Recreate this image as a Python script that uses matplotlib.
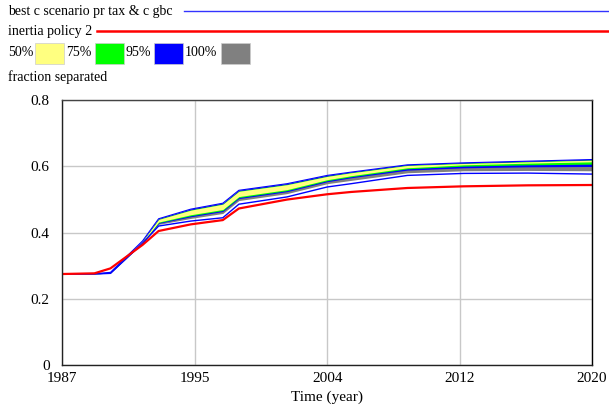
import matplotlib
matplotlib.use("Agg")
import matplotlib.pyplot as plt
from matplotlib.lines import Line2D
from matplotlib.patches import Rectangle

# time points (year) and series
years = [1987, 1989, 1990, 1992, 1993, 1995, 1997, 1998, 2001, 2003.5, 2005, 2008.5, 2012, 2016, 2020]

upper100 = [0.275, 0.276, 0.280, 0.375, 0.443, 0.472, 0.490, 0.529, 0.549, 0.574, 0.584, 0.606, 0.612, 0.617, 0.622]
upper95 = [0.275, 0.276, 0.280, 0.375, 0.442, 0.471, 0.489, 0.528, 0.548, 0.573, 0.583, 0.605, 0.611, 0.616, 0.621]
upper75 = [0.275, 0.276, 0.280, 0.374, 0.441, 0.469, 0.487, 0.526, 0.546, 0.571, 0.582, 0.604, 0.610, 0.615, 0.620]
upper50 = [0.275, 0.276, 0.280, 0.374, 0.440, 0.468, 0.486, 0.525, 0.545, 0.570, 0.581, 0.603, 0.609, 0.614, 0.619]
lower50 = [0.275, 0.275, 0.279, 0.371, 0.432, 0.454, 0.470, 0.509, 0.530, 0.560, 0.572, 0.596, 0.605, 0.610, 0.614]
lower75 = [0.275, 0.275, 0.279, 0.370, 0.430, 0.451, 0.467, 0.506, 0.527, 0.557, 0.569, 0.593, 0.601, 0.605, 0.607]
lower95 = [0.275, 0.275, 0.278, 0.369, 0.428, 0.448, 0.464, 0.503, 0.524, 0.554, 0.566, 0.589, 0.596, 0.599, 0.600]
lower100 = [0.275, 0.275, 0.278, 0.368, 0.425, 0.443, 0.458, 0.497, 0.518, 0.548, 0.558, 0.581, 0.587, 0.588, 0.587]

best_c = [0.275, 0.275, 0.277, 0.368, 0.420, 0.435, 0.445, 0.486, 0.508, 0.538, 0.548, 0.573, 0.579, 0.580, 0.577]
inertia = [0.275, 0.277, 0.292, 0.363, 0.405, 0.425, 0.438, 0.473, 0.500, 0.516, 0.523, 0.535, 0.540, 0.543, 0.544]

band_labels = ["50%", "75%", "95%", "100%"]
band_colors = ["#ffff80", "#00ff00", "#0000ff", "#808080"]

x_ticks = [1987, 1995.25, 2003.5, 2011.75, 2020]
x_ticklabels = ["1987", "1995", "2004", "2012", "2020"]
y_ticks = [0, 0.2, 0.4, 0.6, 0.8]
y_ticklabels = ["0", "0.2", "0.4", "0.6", "0.8"]

W, H = 609, 415
plt.rcParams['font.family'] = ['Liberation Serif', 'DejaVu Serif']
fig = plt.figure(figsize=(W / 100, H / 100), dpi=100)


def fx(px):
    return px / W


def fy(py):
    return 1 - py / H


ax = fig.add_axes([fx(62.3), fy(365), fx(592) - fx(62.3), fy(100.3) - fy(365)])

ax.fill_between(years, lower100, upper100, color=band_colors[3], lw=0)
ax.fill_between(years, lower95, upper95, color=band_colors[2], lw=0)
ax.fill_between(years, lower75, upper75, color=band_colors[1], lw=0)
ax.fill_between(years, lower50, upper50, color=band_colors[0], lw=0)
ax.plot(years, upper95, color="#0000ff", lw=0.8)
ax.plot(years, best_c, color="#0000ff", lw=1.0)
ax.plot(years, inertia, color="#ff0000", lw=1.6)

ax.set_xlim(1987, 2020)
ax.set_ylim(0, 0.8)
ax.set_xticks(x_ticks)
ax.set_xticklabels(x_ticklabels, fontsize=11)
ax.set_yticks(y_ticks)
ax.set_yticklabels(y_ticklabels, fontsize=11)
ax.tick_params(axis='x', length=0, pad=5)
ax.tick_params(axis='y', length=0, pad=9)
ax.grid(True, color="#c8c8c8", lw=1.0)
ax.set_axisbelow(True)
for s in ["left", "bottom"]:
    ax.spines[s].set_color("#222222")
ax.spines["top"].set_color("#444444")
ax.spines["right"].set_color("black")
for s in ax.spines.values():
    s.set_linewidth(1.0)
ax.set_xlabel("Time (year)", fontsize=11, labelpad=4)

# legend at top
fs = 10
fig.text(fx(8), fy(11), "best c scenario pr tax & c gbc", fontsize=fs, va="center", ha="left")
fig.add_artist(Line2D([fx(184), fx(609)], [fy(11), fy(11)], color="#3333ff", lw=1.0))
fig.text(fx(8), fy(31), "inertia policy 2", fontsize=fs, va="center", ha="left")
fig.add_artist(Line2D([fx(97), fx(609)], [fy(31), fy(31)], color="#ff0000", lw=1.8))

label_x = [8, 66, 125, 185]
box_x = [35, 95, 154, 221]
for lab, col, lx, bx in zip(band_labels, band_colors, label_x, box_x):
    fig.text(fx(lx), fy(52), lab, fontsize=fs, va="center", ha="left")
    fig.add_artist(Rectangle((fx(bx), fy(64)), fx(29), fy(43) - fy(64),
                             facecolor=col, edgecolor="#cccccc", lw=0.5))
fig.text(fx(8), fy(77), "fraction separated", fontsize=fs, va="center", ha="left")

fig.savefig("out.png", dpi=100)
